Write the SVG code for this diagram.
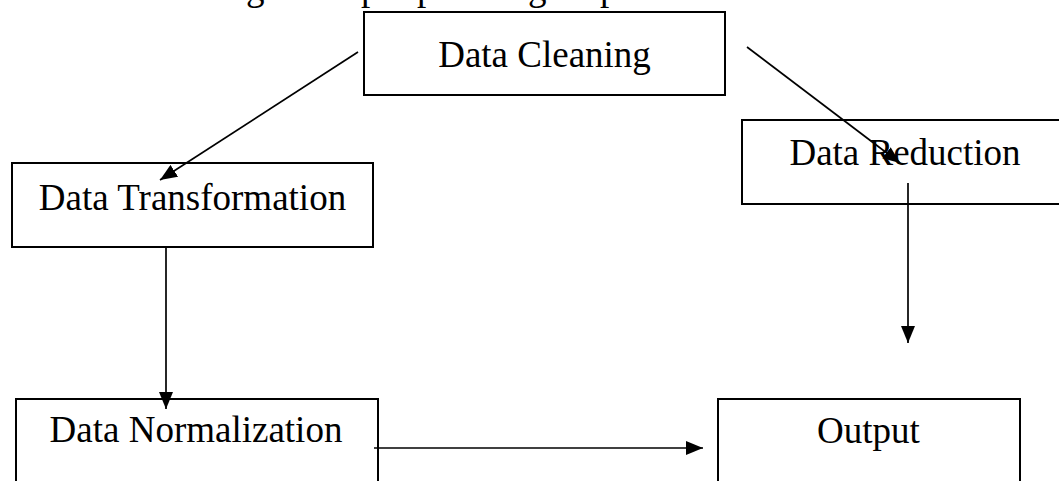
<svg xmlns="http://www.w3.org/2000/svg" width="1059" height="481" viewBox="0 0 1059 481">
<style>
.box{fill:#fff;stroke:#000;stroke-width:2}
.lbl{font-family:"Liberation Serif","Times New Roman",serif;font-size:37px;fill:#000;text-anchor:middle}
.cap{font-family:"Liberation Serif","Times New Roman",serif;font-size:37px;fill:#000}
.edge{stroke:#000;stroke-width:1.7;fill:none;marker-end:url(#ah)}
</style>
<defs>
<marker id="ah" markerUnits="userSpaceOnUse" markerWidth="17" markerHeight="14" refX="17" refY="7" orient="auto">
<path d="M0,0 L17,7 L0,14 z" fill="#000"/>
</marker>
</defs>
<rect width="1059" height="481" fill="#fff"/>
<text class="cap" x="246 361 417 528 600" y="-0.5">gppgp</text>
<g id="node-cleaning"><rect class="box" x="364" y="12" width="361" height="83"/><text class="lbl" x="544.5" y="67">Data Cleaning</text></g>
<g id="node-reduction"><rect class="box" x="742" y="120" width="330" height="84"/><text class="lbl" x="905" y="165">Data Reduction</text></g>
<g id="node-transformation"><rect class="box" x="12" y="163" width="361" height="84"/><text class="lbl" x="192.5" y="210">Data Transformation</text></g>
<g id="node-normalization"><rect class="box" x="16" y="399" width="362" height="100"/><text class="lbl" x="196" y="442">Data Normalization</text></g>
<g id="node-output"><rect class="box" x="718" y="399" width="302" height="100"/><text class="lbl" x="868.5" y="443">Output</text></g>
<g id="connectors">
<line class="edge" x1="358" y1="52" x2="160" y2="180"/>
<line class="edge" x1="747" y1="47" x2="900" y2="163"/>
<line class="edge" x1="908" y1="183" x2="908" y2="343"/>
<line class="edge" x1="166" y1="247" x2="166" y2="409"/>
<line class="edge" x1="374" y1="448" x2="703" y2="448"/>
</g>
</svg>
